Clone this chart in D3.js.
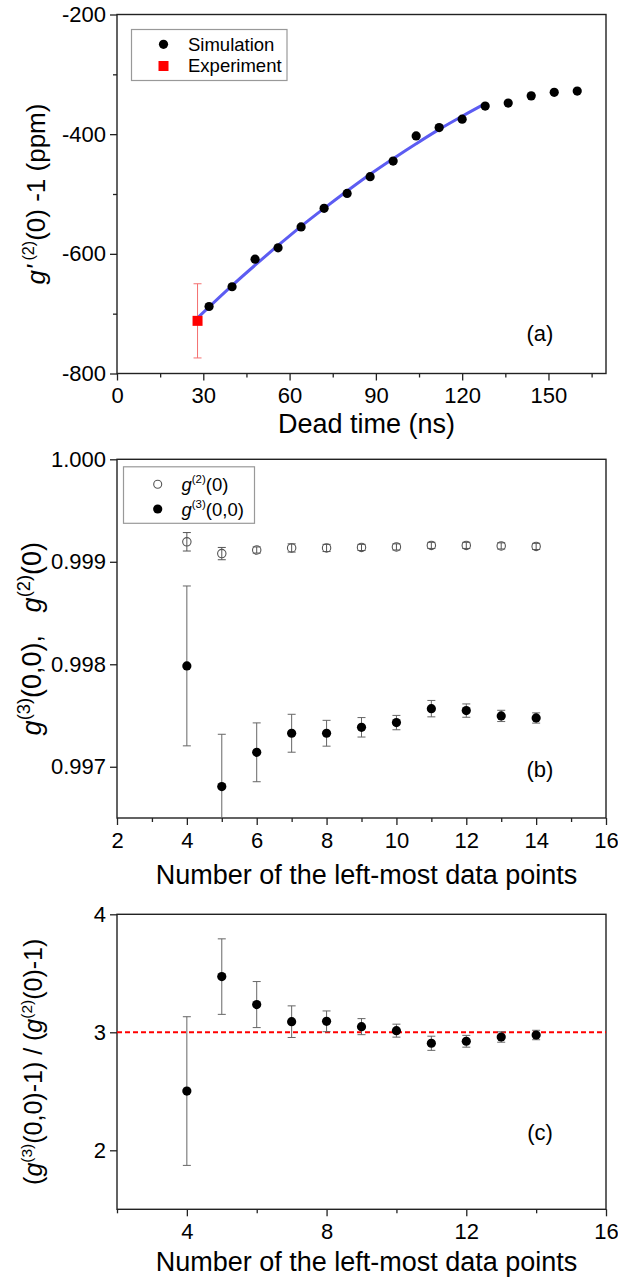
<!DOCTYPE html>
<html><head><meta charset="utf-8">
<script src="https://cdn.jsdelivr.net/npm/d3@7"></script>
<style>
body{margin:0;background:#fff}
svg{display:block}
text{font-family:"Liberation Sans",Arial,sans-serif;fill:#000}
</style>
</head><body>
<svg id="chart" width="618" height="1279"></svg>
<script>
// ---------- data ----------
// panel (a)
const simDeadTime = [32, 40, 48, 56, 64, 72, 80, 88, 96, 104, 112, 120, 128, 136, 144, 152, 160];
const simG2 = [-688, -655, -609, -590, -555, -524, -499, -471, -445, -403, -389, -375, -353, -348, -336, -330, -328];
const expDeadTime = [28];
const expG2 = [-712];
const expErr = [62];
const fitDeadTime = [28, 40, 48, 56, 64, 72, 80, 88, 96, 104, 112, 120, 128];
const fitG2 = [-707, -653, -619, -586, -554, -524, -495, -467, -441, -416, -392, -370, -349];
const aXTicks = [0, 30, 60, 90, 120, 150];
const aXMinor = [15, 45, 75, 105, 135, 165];
const aYTicks = [-800, -600, -400, -200];
const aYMinor = [-700, -500, -300];

// panel (b)
const nLeft = [4, 5, 6, 7, 8, 9, 10, 11, 12, 13, 14];
const g2Val = [0.999195, 0.999080, 0.999115, 0.999135, 0.999135, 0.999140, 0.999145, 0.999160, 0.999160, 0.999155, 0.999150];
const g2Err = [0.00009, 0.00006, 0.00003, 0.00004, 0.000035, 0.00003, 0.00003, 0.00003, 0.00003, 0.00003, 0.00003];
const g3Val = [0.997984, 0.996807, 0.997141, 0.997327, 0.997327, 0.997385, 0.997431, 0.997567, 0.997548, 0.997496, 0.997476];
const g3Err = [0.00078, 0.00051, 0.000287, 0.000185, 0.000126, 0.000095, 0.00007, 0.00008, 0.000065, 0.000055, 0.00005];
const bXTicks = [2, 4, 6, 8, 10, 12, 14, 16];
const bXMinor = [3, 5, 7, 9, 11, 13, 15];
const bYTicks = [0.997, 0.998, 0.999, 1.000];

// panel (c)
const ratioVal = [2.502, 3.472, 3.235, 3.090, 3.093, 3.048, 3.014, 2.907, 2.924, 2.960, 2.977];
const ratioErr = [0.63, 0.32, 0.195, 0.134, 0.088, 0.068, 0.055, 0.06, 0.05, 0.044, 0.04];
const ratioRef = [3];
const cXTicks = [4, 8, 12, 16];
const cXMinor = [2, 6, 10, 14];
const cYTicks = [2, 3, 4];

// ---------- drawing ----------
const svg = d3.select("#chart");
const L = 117, R = 606;
const TICK_FONT = 22;

function rich(sel, parts, size, supScale) {
  const sc = supScale || 0.62;
  let prevSup = false;
  parts.forEach(p => {
    const ts = sel.append("tspan").text(p.t);
    if (p.it) ts.attr("font-style", "italic");
    if (p.sup) {
      ts.attr("font-size", size * sc);
      if (!prevSup) ts.attr("dy", -size * 0.42);
    } else if (prevSup) {
      ts.attr("dy", size * 0.42);
    }
    prevSup = !!p.sup;
  });
}

function panel(cfg) {
  const g = svg.append("g");
  const x = d3.scaleLinear().domain(cfg.xDomain).range([L, R]);
  const y = d3.scaleLinear().domain(cfg.yDomain).range([cfg.bottom, cfg.top]);
  const id = "clip" + cfg.name;
  svg.append("clipPath").attr("id", id).append("rect")
    .attr("x", L).attr("y", cfg.top).attr("width", R - L).attr("height", cfg.bottom - cfg.top);

  const xa = g.append("g").attr("transform", `translate(0,${cfg.bottom})`)
    .call(d3.axisBottom(x).tickValues(cfg.xTicks).tickSize(7).tickSizeOuter(0).tickPadding(7)
      .tickFormat(d => String(d)));
  const xm = g.append("g").attr("transform", `translate(0,${cfg.bottom})`)
    .call(d3.axisBottom(x).tickValues(cfg.xMinor).tickSize(4).tickSizeOuter(0).tickFormat(""));
  const ya = g.append("g").attr("transform", `translate(${L},0)`)
    .call(d3.axisLeft(y).tickValues(cfg.yTicks).tickSize(7).tickSizeOuter(0).tickPadding(4)
      .tickFormat(cfg.yFormat));
  const ym = g.append("g").attr("transform", `translate(${L},0)`)
    .call(d3.axisLeft(y).tickValues(cfg.yMinor || []).tickSize(4).tickSizeOuter(0).tickFormat(""));
  [xa, xm, ya, ym].forEach(a => {
    a.select(".domain").remove();
    a.selectAll("line").attr("stroke", "#222").attr("stroke-width", 1.3);
    a.selectAll("text").attr("font-size", TICK_FONT).attr("font-family", '"Liberation Sans",Arial,sans-serif').attr("fill", "#000");
  });
  g.append("rect").attr("x", L).attr("y", cfg.top).attr("width", R - L).attr("height", cfg.bottom - cfg.top)
    .attr("fill", "none").attr("stroke", "#222").attr("stroke-width", 1.4);

  g.append("text").attr("x", (L + R) / 2 + 5).attr("y", cfg.xTitleY).attr("text-anchor", "middle")
    .attr("font-size", 27).text(cfg.xTitle);
  const yt = g.append("text").attr("transform", `translate(${cfg.yTitleX},${(cfg.top + cfg.bottom) / 2}) rotate(-90)`)
    .attr("text-anchor", "middle").attr("font-size", cfg.yTitleSize || 25);
  rich(yt, cfg.yTitle, cfg.yTitleSize || 25, cfg.supScale);
  g.append("text").attr("x", 540).attr("y", cfg.labelY).attr("text-anchor", "middle")
    .attr("font-size", 22).text(cfg.label);

  const plot = svg.append("g").attr("clip-path", `url(#${id})`);
  return {x, y, plot, g};
}

function errorBars(layer, x, y, xs, vs, es, color, width) {
  const data = xs.map((d, i) => ({x: d, v: vs[i], e: es[i]}));
  const eg = layer.append("g").attr("stroke", color).attr("stroke-width", width).attr("fill", "none");
  eg.selectAll("line.v").data(data).join("line").attr("class", "v")
    .attr("x1", d => x(d.x)).attr("x2", d => x(d.x))
    .attr("y1", d => y(d.v - d.e)).attr("y2", d => y(d.v + d.e));
  eg.selectAll("line.t").data(data).join("line").attr("class", "t")
    .attr("x1", d => x(d.x) - 4).attr("x2", d => x(d.x) + 4)
    .attr("y1", d => y(d.v + d.e)).attr("y2", d => y(d.v + d.e));
  eg.selectAll("line.b").data(data).join("line").attr("class", "b")
    .attr("x1", d => x(d.x) - 4).attr("x2", d => x(d.x) + 4)
    .attr("y1", d => y(d.v - d.e)).attr("y2", d => y(d.v - d.e));
}

// ---- panel (a)
const A = panel({
  name: "a", xDomain: [0, 170], yDomain: [-800, -200], top: 14.5, bottom: 373.5,
  xTicks: aXTicks, xMinor: aXMinor, yTicks: aYTicks, yMinor: aYMinor,
  yFormat: d => String(d), xTitle: "Dead time (ns)", xTitleY: 433,
  yTitleX: 45, label: "(a)", labelY: 341, yTitleSize: 26,
  yTitle: [{t: "g", it: true}, {t: "'", it: true}, {t: "\u00a0(2)", sup: true}, {t: "(0) -1 (ppm)"}]
});
A.plot.append("path")
  .datum(fitDeadTime.map((d, i) => [d, fitG2[i]]))
  .attr("d", d3.line().x(d => A.x(d[0])).y(d => A.y(d[1])).curve(d3.curveMonotoneX))
  .attr("fill", "none").attr("stroke", "#5c5cf2").attr("stroke-width", 3);
A.plot.append("g").selectAll("circle").data(simDeadTime).join("circle")
  .attr("cx", d => A.x(d)).attr("cy", (d, i) => A.y(simG2[i])).attr("r", 4.6).attr("fill", "#000");
errorBars(A.plot, A.x, A.y, expDeadTime, expG2, expErr, "#f47070", 1);
A.plot.append("g").selectAll("rect").data(expDeadTime).join("rect")
  .attr("x", d => A.x(d) - 5).attr("y", (d, i) => A.y(expG2[i]) - 5).attr("width", 10).attr("height", 10)
  .attr("fill", "#ff0000");
const la = svg.append("g");
la.append("rect").attr("x", 131.5).attr("y", 29.5).attr("width", 155.5).attr("height", 51)
  .attr("fill", "#fff").attr("stroke", "#999").attr("stroke-width", 1.2);
la.append("circle").attr("cx", 163.5).attr("cy", 44.3).attr("r", 4.6).attr("fill", "#000");
la.append("rect").attr("x", 158.5).attr("y", 61).attr("width", 10).attr("height", 10).attr("fill", "#ff0000");
la.append("text").attr("x", 188).attr("y", 50.5).attr("font-size", 18.5).text("Simulation");
la.append("text").attr("x", 188).attr("y", 72.3).attr("font-size", 18.5).text("Experiment");

// ---- panel (b)
const B = panel({
  name: "b", xDomain: [2, 16], yDomain: [0.9965, 1.000], top: 459.3, bottom: 818,
  xTicks: bXTicks, xMinor: bXMinor, yTicks: bYTicks, yMinor: [],
  yFormat: d3.format(".3f"), xTitle: "Number of the left-most data points", xTitleY: 884,
  yTitleX: 41, label: "(b)", labelY: 777, yTitleSize: 27, supScale: 0.68,
  yTitle: [{t: "g", it: true}, {t: "(3)", sup: true}, {t: "(0,0),\u00a0\u00a0\u00a0"}, {t: "g", it: true}, {t: "(2)", sup: true}, {t: "(0)"}]
});
errorBars(B.plot, B.x, B.y, nLeft, g2Val, g2Err, "#555", 1);
errorBars(B.plot, B.x, B.y, nLeft, g3Val, g3Err, "#666", 1);
B.plot.append("g").selectAll("circle").data(nLeft).join("circle")
  .attr("cx", d => B.x(d)).attr("cy", (d, i) => B.y(g2Val[i])).attr("r", 4.2)
  .attr("fill", "none").attr("stroke", "#555").attr("stroke-width", 1.1);
B.plot.append("g").selectAll("circle").data(nLeft).join("circle")
  .attr("cx", d => B.x(d)).attr("cy", (d, i) => B.y(g3Val[i])).attr("r", 4.6).attr("fill", "#000");
const lb = svg.append("g");
lb.append("rect").attr("x", 123.5).attr("y", 466.8).attr("width", 131).attr("height", 56.5)
  .attr("fill", "#fff").attr("stroke", "#999").attr("stroke-width", 1.2);
lb.append("circle").attr("cx", 157.7).attr("cy", 484.3).attr("r", 4).attr("fill", "none").attr("stroke", "#555").attr("stroke-width", 1.1);
lb.append("circle").attr("cx", 157.7).attr("cy", 509).attr("r", 4.6).attr("fill", "#000");
const lt1 = lb.append("text").attr("x", 181.5).attr("y", 491).attr("font-size", 18.5);
rich(lt1, [{t: "g", it: true}, {t: "(2)", sup: true}, {t: "(0)"}], 18.5);
const lt2 = lb.append("text").attr("x", 181.5).attr("y", 515.5).attr("font-size", 18.5);
rich(lt2, [{t: "g", it: true}, {t: "(3)", sup: true}, {t: "(0,0)"}], 18.5);

// ---- panel (c)
const C = panel({
  name: "c", xDomain: [2, 16], yDomain: [1.5, 4], top: 914.3, bottom: 1209.3,
  xTicks: cXTicks, xMinor: cXMinor, yTicks: cYTicks, yMinor: [],
  yFormat: d => String(d), xTitle: "Number of the left-most data points", xTitleY: 1271,
  yTitleX: 42, label: "(c)", labelY: 1140,
  yTitle: [{t: "("}, {t: "g", it: true}, {t: "(3)", sup: true}, {t: "(0,0)-1) / ("}, {t: "g", it: true}, {t: "(2)", sup: true}, {t: "(0)-1)"}]
});
C.plot.append("g").selectAll("line").data(ratioRef).join("line")
  .attr("x1", L).attr("x2", R).attr("y1", d => C.y(d)).attr("y2", d => C.y(d))
  .attr("stroke", "#ff0000").attr("stroke-width", 2).attr("stroke-dasharray", "5,3");
errorBars(C.plot, C.x, C.y, nLeft, ratioVal, ratioErr, "#666", 1);
C.plot.append("g").selectAll("circle").data(nLeft).join("circle")
  .attr("cx", d => C.x(d)).attr("cy", (d, i) => C.y(ratioVal[i])).attr("r", 4.6).attr("fill", "#000");
</script>
</body></html>
